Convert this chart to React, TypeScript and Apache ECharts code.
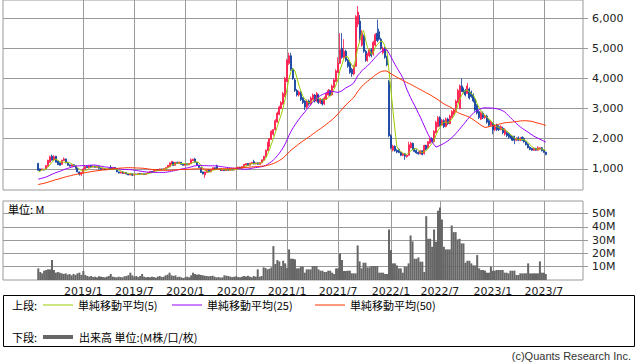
import { useEffect, useRef } from 'react';
import * as echarts from 'echarts';

// ---------- data ----------
const FIRST_WEEK = '2018-03-23'; // first weekly category (Friday)
const WEEK_COUNT = 297; // weekly categories spanning the plot width
const DATA_START = 18; // category index of the first candle

const TICK_LABELS = ['2019/1', '2019/7', '2020/1', '2020/7', '2021/1', '2021/7', '2022/1', '2022/7', '2023/1', '2023/7'];
const PRICE_TICKS = [1000, 2000, 3000, 4000, 5000, 6000];
const VOLUME_TICKS = [10, 20, 30, 40, 50];

// weekly candles: [open, high, low, close]
const CANDLES: number[][] = [
  [1180, 1200, 940, 955], [1000, 1010, 930, 940], [960, 1010, 950, 1000], [990, 1000, 950, 960], [1000, 1120, 990, 1110],
  [1090, 1300, 1080, 1290], [1220, 1440, 1210, 1400], [1420, 1475, 1280, 1290], [1300, 1460, 1290, 1400], [1420, 1430, 1210, 1220],
  [1260, 1270, 1130, 1140], [1200, 1210, 1110, 1120], [1150, 1300, 1140, 1290], [1280, 1380, 1270, 1330], [1330, 1340, 1190, 1200],
  [1220, 1230, 1110, 1120], [1130, 1150, 1080, 1090], [1090, 1150, 1080, 1130], [1140, 1150, 1070, 1080], [1100, 1110, 1010, 1020],
  [1020, 1030, 890, 900], [900, 910, 780, 830], [820, 890, 760, 880], [880, 1010, 870, 1000], [1000, 1090, 990, 1080],
  [1080, 1100, 1030, 1040], [1040, 1110, 1030, 1100], [1110, 1120, 1050, 1060], [1060, 1100, 1050, 1090], [1090, 1100, 1040, 1050],
  [1050, 1090, 1040, 1080], [1080, 1090, 1010, 1020], [1020, 1030, 980, 990], [990, 1020, 980, 1010], [1010, 1020, 960, 970],
  [970, 1010, 960, 1000], [1010, 1020, 970, 980], [1060, 1120, 980, 990], [990, 1060, 980, 1050], [1050, 1060, 990, 1000],
  [1000, 1010, 890, 900], [900, 910, 850, 860], [860, 910, 850, 900], [900, 910, 840, 850], [850, 890, 840, 880],
  [880, 890, 820, 830], [830, 840, 790, 800], [800, 850, 790, 840], [840, 850, 760, 790], [790, 840, 780, 830],
  [830, 840, 800, 810], [810, 860, 800, 850], [850, 860, 810, 820], [820, 850, 810, 840], [840, 850, 800, 810],
  [810, 860, 800, 850], [850, 890, 840, 880], [880, 930, 870, 920], [920, 930, 890, 900], [900, 960, 890, 950],
  [950, 990, 940, 980], [980, 990, 940, 950], [950, 1010, 940, 1000], [1000, 1010, 960, 970], [970, 1020, 960, 1010],
  [1010, 1060, 1000, 1050], [1040, 1130, 1030, 1120], [1070, 1210, 1060, 1200], [1150, 1260, 1140, 1250], [1220, 1230, 1100, 1110],
  [1120, 1230, 1110, 1220], [1220, 1240, 1170, 1180], [1180, 1240, 1170, 1230], [1220, 1230, 1140, 1150], [1150, 1160, 1110, 1120],
  [1120, 1170, 1110, 1160], [1170, 1180, 1120, 1130], [1130, 1190, 1120, 1180], [1170, 1350, 1160, 1300], [1270, 1330, 1260, 1320],
  [1330, 1370, 1210, 1220], [1220, 1230, 1120, 1130], [1120, 1130, 1040, 1050], [1040, 1050, 870, 880], [900, 910, 820, 830],
  [800, 910, 700, 900], [880, 960, 870, 950], [960, 970, 890, 900], [900, 990, 890, 980], [980, 1050, 970, 1040],
  [1040, 1050, 970, 980], [1100, 1140, 990, 1000], [980, 1010, 970, 1000], [1000, 1010, 940, 950], [950, 1000, 940, 990],
  [990, 1000, 930, 940], [940, 990, 930, 980], [980, 990, 940, 950], [950, 1000, 940, 990], [990, 1000, 950, 960],
  [960, 1010, 950, 1000], [990, 1030, 980, 1020], [1010, 1070, 1000, 1060], [1060, 1070, 1010, 1020], [1020, 1090, 1010, 1080],
  [1070, 1160, 1060, 1150], [1130, 1190, 1120, 1180], [1180, 1190, 1110, 1120], [1120, 1200, 1110, 1190], [1180, 1230, 1170, 1220],
  [1240, 1300, 1150, 1160], [1160, 1210, 1150, 1200], [1200, 1210, 1140, 1150], [1150, 1220, 1140, 1210], [1200, 1310, 1190, 1300],
  [1290, 1430, 1280, 1420], [1400, 1640, 1390, 1620], [1600, 1900, 1590, 1850], [1750, 2020, 1740, 2000], [1980, 2280, 1960, 2250],
  [2150, 2320, 2100, 2300], [2300, 2650, 2280, 2600], [2550, 2900, 2530, 2850], [2800, 3100, 2780, 3050], [3000, 3250, 2980, 3200],
  [3150, 3550, 3130, 3500], [3400, 4050, 3380, 4000], [3900, 4650, 3880, 4600], [4500, 4850, 4450, 4750], [4750, 4850, 4250, 4300],
  [4300, 4350, 3950, 4000], [3950, 4000, 3550, 3600], [3600, 3650, 3400, 3450], [3450, 3600, 3400, 3550], [3550, 3580, 3250, 3300],
  [3350, 3380, 3150, 3200], [3250, 3280, 2950, 3050], [3050, 3300, 3000, 3250], [3250, 3300, 3100, 3150], [3150, 3400, 3100, 3350],
  [3300, 3500, 3280, 3450], [3450, 3480, 3200, 3250], [3250, 3550, 3230, 3500], [3450, 3480, 3150, 3200], [3200, 3350, 3150, 3300],
  [3300, 3330, 3100, 3150], [3150, 3400, 3120, 3350], [3300, 3550, 3280, 3500], [3450, 3650, 3430, 3600], [3600, 3630, 3400, 3450],
  [3450, 3800, 3430, 3750], [3700, 4000, 3680, 3950], [3900, 4300, 3880, 4250], [4200, 4700, 4180, 4500], [4500, 5500, 4480, 4950],
  [5000, 5500, 4650, 4700], [4700, 5300, 4650, 4900], [4900, 4950, 4550, 4600], [4600, 4650, 4350, 4400], [4500, 4550, 4150, 4200],
  [4300, 4350, 4050, 4150], [4150, 4450, 4100, 4400], [4400, 6100, 4380, 6050], [5800, 6400, 5700, 6200], [5900, 6100, 5200, 5300],
  [5100, 5600, 5050, 5500], [5400, 5450, 4850, 4900], [4900, 4950, 4550, 4600], [4600, 4850, 4550, 4800], [4750, 5000, 4700, 4950],
  [4950, 5000, 4700, 4750], [4800, 5250, 4750, 5200], [5100, 5500, 5050, 5450], [5500, 5950, 5200, 5250], [5550, 5650, 5250, 5300],
  [5300, 5350, 4950, 5000], [4850, 5050, 4800, 5000], [5000, 5050, 4650, 4700], [4700, 4750, 4400, 4450], [3900, 3950, 2050, 2100],
  [2100, 2150, 1650, 1700], [1620, 1800, 1580, 1750], [1750, 1780, 1570, 1600], [1620, 1650, 1520, 1560], [1650, 1680, 1520, 1540],
  [1550, 1570, 1420, 1450], [1450, 1520, 1420, 1500], [1500, 1520, 1300, 1420], [1400, 1470, 1380, 1450], [1450, 1900, 1440, 1800],
  [1700, 1900, 1680, 1850], [1850, 1870, 1620, 1650], [1650, 1680, 1550, 1580], [1620, 1650, 1500, 1530], [1550, 1580, 1470, 1500],
  [1500, 1620, 1480, 1600], [1600, 1620, 1450, 1480], [1500, 1800, 1480, 1780], [1780, 1800, 1620, 1650], [1700, 1920, 1680, 1900],
  [1850, 2030, 1830, 2000], [2000, 2050, 1880, 1900], [1900, 2280, 1880, 2250], [2200, 2600, 2180, 2550], [2400, 2750, 2380, 2700],
  [2700, 2750, 2400, 2450], [2450, 2650, 2420, 2600], [2600, 2650, 2350, 2400], [2400, 2700, 2380, 2650], [2650, 2700, 2450, 2500],
  [2500, 2800, 2480, 2750], [2700, 2950, 2680, 2900], [2800, 3000, 2780, 2950], [2950, 3300, 2930, 3250], [3200, 3650, 3180, 3600],
  [3000, 3800, 2980, 3750], [3750, 4000, 3550, 3600], [3650, 3700, 3500, 3550], [3600, 3650, 3400, 3450], [3500, 3850, 3480, 3750],
  [3650, 3700, 3300, 3350], [3550, 3600, 3350, 3400], [3450, 3500, 3200, 3250], [3300, 3350, 2900, 2950], [3100, 3150, 2800, 2850],
  [2900, 2950, 2650, 2700], [2650, 2900, 2620, 2850], [2850, 2900, 2650, 2700], [2700, 2800, 2650, 2750], [2750, 2800, 2500, 2550],
  [2600, 2650, 2400, 2450], [2450, 2600, 2420, 2550], [2500, 2550, 2150, 2300], [2300, 2450, 2250, 2400], [2450, 2500, 2250, 2300],
  [2400, 2450, 2250, 2300], [2300, 2450, 2280, 2400], [2350, 2400, 2150, 2200], [2150, 2350, 2100, 2300], [2200, 2250, 2050, 2100],
  [2150, 2200, 2000, 2050], [2100, 2150, 2000, 2030], [2050, 2100, 1920, 1950], [2080, 2100, 1820, 1950], [1950, 2050, 1920, 2000],
  [2030, 2080, 1920, 1950], [1950, 2050, 1920, 2020], [2050, 2080, 1920, 1950], [2000, 2050, 1870, 1900], [1900, 1920, 1780, 1800],
  [1820, 1850, 1680, 1700], [1720, 1750, 1620, 1650], [1680, 1700, 1600, 1620], [1620, 1700, 1600, 1680], [1680, 1700, 1600, 1620],
  [1620, 1750, 1600, 1700], [1650, 1720, 1630, 1700], [1700, 1720, 1580, 1600], [1620, 1640, 1530, 1550], [1550, 1570, 1450, 1480],
];

// weekly volume, millions
const VOLUME_M: number[] = [
  8.75, 6, 5, 7, 7.5, 8, 8, 15, 7.5, 5.5,
  6, 5.5, 5, 4.5, 5, 4, 4.5, 3.5, 4.5, 3.8,
  5, 5.5, 3.8, 6.8, 3.8,
  3.0, 2.5, 3.0, 2.2, 2.5, 2.0, 2.8, 2.5, 2.2, 2.0,
  2.5, 3.0, 4.5, 2.5, 2.2, 2.0, 2.5, 2.2, 2.0, 2.8,
  3.0, 3.5, 5.5, 3.5, 2.5, 3.0, 2.2, 3.0, 4.5, 2.5,
  2.0, 2.2, 2.0, 2.5, 2.2, 1.8, 2.5, 3.0, 2.2, 2.5,
  3.5, 4.0, 5.5, 3.5, 3.0, 3.5, 2.2, 2.5, 2.0, 1.5,
  2.0, 2.5, 2.0, 3.5, 5.5, 4.5, 4.0, 4.2,
  3.8, 3.5, 3.2, 3.0, 2.8, 3.0, 3.2, 2.5, 2.0, 2.2,
  1.8, 2.0, 3.5, 3.2, 3.0, 2.5, 2.2, 2.5, 2.8, 2.2,
  2.0, 2.5, 3.0, 2.6, 3.2, 2.5, 2.0, 3.0, 2.5, 8.0,
  2.5, 3.0, 9.5, 9.0, 8.0, 8.5, 9.5, 25.5, 12.0, 15.0,
  14.0, 10.5, 14.5, 12.5, 9.0, 23.0,
  16, 16, 15.5, 8.75, 8.75, 10, 10, 5.5, 8, 8,
  8, 10.5, 10.5, 10.5, 8, 7, 7, 6, 6, 7,
  7, 5.5, 4.5, 8.75, 8.75, 20, 15, 6.8, 6.8, 7,
  7, 5, 5, 5, 26, 14, 8.75, 13, 13, 9.5,
  9.5, 10.5, 10.5, 10.5, 10.5, 5.5, 5.5, 5.5, 4.5, 4.5,
  38, 22.5, 12.5, 12.5, 11, 8.75, 8.75, 5.5, 10, 10,
  12.5, 33.5, 29, 16, 16, 17, 13.75, 13.75, 6, 48,
  31, 31, 25, 38, 28.75, 52, 54.5, 45.5, 25, 23,
  23, 23, 41, 36, 36, 30.5, 31, 27.5, 27.5, 13,
  14.5, 14.5, 12.5, 11, 11, 18.75, 8.75, 7.5, 7.5, 7,
  5.5, 5.5, 10, 7, 7, 7.5, 7.5, 7.5, 7.5, 5.5,
  5.5, 5, 7, 7, 7, 3.75, 3.75, 5, 5, 5,
  5, 12.5, 5, 5, 5, 5, 5, 14, 5.5, 5.5,
  4.5,
];

// closes of the weeks before the first candle (only feed the moving averages)
const PRIOR_CLOSES: number[] = [
  270, 275, 282, 288, 290, 284, 279, 291, 296, 300, 294, 289, 286, 291, 297, 302, 296, 291, 294, 300, 305,
  330, 360, 400, 450, 500, 530, 560, 580, 600, 590,
  580, 600, 610, 590, 600, 620, 610, 600, 620, 640, 630, 620, 650, 680, 720, 800, 900, 1050,
];

const MA_PERIODS = [5, 25, 50];
const MA_COLORS = ['#99cc00', '#9900ff', '#ff3300'];
const LEGEND_LABELS = ['単純移動平均(5)', '単純移動平均(25)', '単純移動平均(50)'];
const VOLUME_LEGEND = '出来高 単位:(M株/口/枚)';

// ---------- helpers ----------
const NUM_FONT = '"DejaVu Sans", sans-serif';
const JP_FONT = '"Noto Sans CJK JP", sans-serif';
const GRID_COLOR = '#9a9a9a';

function buildCategories(): string[] {
  const out: string[] = [];
  const start = new Date(FIRST_WEEK + 'T00:00:00Z').getTime();
  for (let i = 0; i < WEEK_COUNT; i++) {
    const d = new Date(start + i * 7 * 86400000);
    out.push(`${d.getUTCFullYear()}/${d.getUTCMonth() + 1}/${d.getUTCDate()}`);
  }
  return out;
}

function buildOption() {
  const categories = buildCategories();
  const tickSet = new Set<number>();
  categories.forEach((c, i) => {
    const [y, m, d] = c.split('/');
    if (TICK_LABELS.includes(`${y}/${m}`) && Number(d) <= 7) tickSet.add(i);
  });
  const isTick = (idx: number) => tickSet.has(idx);

  const n = CANDLES.length;
  const inData = (i: number) => i >= DATA_START && i < DATA_START + n;

  const candleData = categories.map((_, i) => {
    if (!inData(i)) return '-';
    const [o, h, l, c] = CANDLES[i - DATA_START];
    return [o, c, l, h];
  });
  const volumeData = categories.map((_, i) => (inData(i) ? VOLUME_M[i - DATA_START] : '-'));

  const allCloses = PRIOR_CLOSES.concat(CANDLES.map((r) => r[3]));
  const offset = PRIOR_CLOSES.length;
  const maSeries = MA_PERIODS.map((p, k) => {
    const data = categories.map((_, i) => {
      if (!inData(i)) return '-';
      const end = offset + (i - DATA_START);
      let s = 0;
      for (let j = end - p + 1; j <= end; j++) s += allCloses[j];
      return Math.round((s / p) * 10) / 10;
    });
    return {
      type: 'line',
      name: LEGEND_LABELS[k],
      xAxisIndex: 0,
      yAxisIndex: 0,
      data,
      showSymbol: false,
      symbol: 'none',
      silent: true,
      lineStyle: { width: 1, color: MA_COLORS[k] },
      itemStyle: { color: MA_COLORS[k] },
    };
  });

  const xAxisBase = (gridIndex: number, showLabel: boolean) => ({
    type: 'category',
    gridIndex,
    data: categories,
    boundaryGap: false,
    axisLine: { show: false },
    axisTick: { show: false },
    axisLabel: {
      show: showLabel,
      interval: (idx: number) => isTick(idx),
      formatter: (v: string) => v.split('/').slice(0, 2).join('/'),
      margin: 5,
      fontSize: 11,
      lineHeight: 12,
      fontFamily: NUM_FONT,
      color: '#222',
    },
    splitLine: { show: true, interval: (idx: number) => isTick(idx), lineStyle: { color: GRID_COLOR, width: 1 } },
  });

  const legendY1 = 305;
  const legendY2 = 337;
  const legendLines = [
    { x1: 43, x2: 73, tx: 78 },
    { x1: 172, x2: 202, tx: 207 },
    { x1: 315, x2: 345, tx: 350 },
  ];
  const jpText = (text: string, x: number, y: number, extra: any = {}) => ({
    type: 'text',
    x,
    y,
    style: { text, fontSize: 11, lineHeight: 12, fontFamily: JP_FONT, fill: '#000', verticalAlign: 'middle', ...extra },
  });

  const graphic: any[] = [
    { type: 'rect', shape: { x: 3.5, y: 295.5, width: 631, height: 51 }, style: { fill: '#fff', stroke: '#000', lineWidth: 1 }, z: 0 },
    jpText('上段:', 12, legendY1),
    jpText('下段:', 12, legendY2),
    { type: 'line', shape: { x1: 43, y1: legendY2, x2: 73, y2: legendY2 }, style: { stroke: '#666', lineWidth: 4 } },
    jpText(VOLUME_LEGEND, 79, legendY2),
    { ...jpText('単位: M', 8, 209), z: 10 },
    { type: 'text', x: 631, y: 356, style: { text: '(c)Quants Research Inc.', fontSize: 11, lineHeight: 12, fontFamily: '"Liberation Sans", sans-serif', fill: '#333', align: 'right', verticalAlign: 'middle' } },
  ];
  legendLines.forEach((l, k) => {
    graphic.push({ type: 'line', shape: { x1: l.x1, y1: legendY1, x2: l.x2, y2: legendY1 }, style: { stroke: MA_COLORS[k], lineWidth: 1 } });
    graphic.push(jpText(LEGEND_LABELS[k], l.tx, legendY1));
  });

  return {
    animation: false,
    backgroundColor: '#fff',
    grid: [
      { left: 3, width: 580, top: 0, height: 190, show: true, borderColor: GRID_COLOR, borderWidth: 1, backgroundColor: '#fff', containLabel: false, outerBoundsMode: 'none' },
      { left: 3, width: 580, top: 201, height: 79, show: true, borderColor: GRID_COLOR, borderWidth: 1, backgroundColor: '#fff', containLabel: false, outerBoundsMode: 'none' },
    ],
    xAxis: [xAxisBase(0, false), xAxisBase(1, true)],
    yAxis: [
      {
        type: 'value',
        gridIndex: 0,
        position: 'right',
        min: 300,
        max: 6600,
        axisLine: { show: false },
        axisTick: { show: true, length: 5, inside: false, lineStyle: { color: GRID_COLOR }, customValues: PRICE_TICKS },
        axisLabel: {
          customValues: PRICE_TICKS,
          margin: 9,
          fontSize: 11,
          fontFamily: NUM_FONT,
          color: '#222',
          formatter: (v: number) => (v % 1000 === 0 ? v.toLocaleString('en-US') : ''),
        },
        splitLine: { show: true, lineStyle: { color: GRID_COLOR, width: 1 } },
      },
      {
        type: 'value',
        gridIndex: 1,
        position: 'right',
        min: 0,
        max: 59.4,
        axisLine: { show: false },
        axisTick: { show: true, length: 5, inside: false, lineStyle: { color: GRID_COLOR }, customValues: VOLUME_TICKS },
        axisLabel: {
          customValues: VOLUME_TICKS,
          margin: 9,
          fontSize: 11,
          fontFamily: NUM_FONT,
          color: '#222',
          formatter: (v: number) => (v % 10 === 0 && v > 0 ? `${v}M` : ''),
        },
        splitLine: { show: true, lineStyle: { color: GRID_COLOR, width: 1 } },
      },
    ],
    series: [
      {
        type: 'candlestick',
        xAxisIndex: 0,
        yAxisIndex: 0,
        data: candleData,
        barWidth: 1.5,
        silent: true,
        itemStyle: { color: '#ff1447', color0: '#0a3a9e', borderColor: '#ff1447', borderColor0: '#0a3a9e', borderWidth: 0.8 },
      },
      ...maSeries,
      {
        type: 'bar',
        xAxisIndex: 1,
        yAxisIndex: 1,
        data: volumeData,
        barWidth: 2,
        silent: true,
        itemStyle: { color: '#666666' },
      },
    ],
    graphic,
  };
}

export default function App() {
  const ref = useRef<HTMLDivElement>(null);
  useEffect(() => {
    document.body.style.margin = '0';
    const chart = echarts.init(ref.current!, undefined, { renderer: 'svg' });
    chart.setOption(buildOption() as any);
    return () => chart.dispose();
  }, []);
  return <div ref={ref} style={{ position: 'absolute', left: 0, top: 0, width: 638, height: 362, background: '#fff' }} />;
}
